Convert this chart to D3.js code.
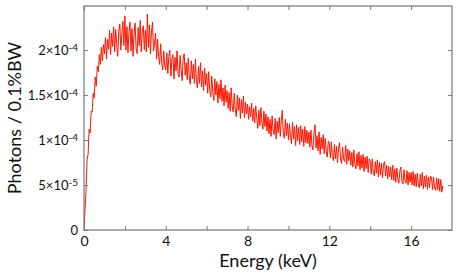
<!DOCTYPE html>
<html>
<head>
<meta charset="utf-8">
<title>Photon spectrum</title>
<script src="https://cdn.jsdelivr.net/npm/d3@7"></script>
<style>
  body { margin: 0; background: #fff; }
  text { font-family: Lato, "Open Sans", sans-serif; fill: #111; }
</style>
</head>
<body>
<div id="chart"></div>
<script>
var width = 464, height = 277;
var margin = {left: 84, right: 12, top: 6, bottom: 47};

// spectrum sampled every 0.05 keV, values in units of 1e-6 photons / 0.1%BW
var energyStep = 0.05;
var photons = [
  0, 22, 44, 78, 84, 112, 108, 132, 131, 152, 147, 170, 160, 182, 176, 195, 184, 203, 188, 206,
  196, 214, 190, 212, 201, 222, 195, 219, 204, 226, 198, 223, 207, 193, 221, 229, 200, 218, 232, 205,
  238, 200, 226, 197, 220, 231, 199, 224, 193, 219, 230, 201, 196, 225, 205, 233, 198, 221, 227, 200,
  222, 198, 240, 203, 228, 196, 220, 231, 199, 208, 219, 190, 212, 193, 184, 207, 186, 178, 199, 182,
  178, 197, 174, 193, 200, 171, 190, 195, 168, 192, 177, 199, 173, 170, 194, 178, 166, 191, 196, 172,
  186, 167, 191, 170, 162, 188, 168, 184, 163, 190, 165, 158, 182, 163, 186, 159, 177, 155, 180, 161,
  174, 152, 176, 155, 148, 171, 153, 144, 168, 150, 165, 141, 162, 146, 167, 143, 158, 138, 161, 142,
  155, 135, 153, 132, 158, 137, 131, 152, 134, 126, 150, 133, 147, 124, 145, 130, 149, 125, 142, 129,
  140, 123, 137, 126, 141, 121, 135, 119, 138, 125, 113, 133, 116, 136, 120, 112, 132, 115, 129, 110,
  126, 107, 123, 104, 127, 110, 106, 124, 101, 121, 108, 125, 104, 122, 133, 107, 102, 123, 105, 119,
  100, 118, 103, 96, 120, 101, 115, 94, 117, 99, 114, 95, 116, 98, 112, 93, 115, 97, 111, 96,
  109, 92, 111, 94, 89, 108, 117, 91, 105, 88, 109, 84, 103, 90, 106, 85, 102, 87, 81, 99,
  96, 80, 98, 82, 77, 95, 79, 93, 75, 91, 97, 78, 74, 92, 79, 76, 94, 73, 90, 77,
  88, 72, 86, 70, 89, 73, 68, 85, 71, 87, 67, 83, 69, 84, 65, 81, 68, 82, 64, 79,
  77, 62, 79, 64, 60, 76, 63, 78, 59, 75, 61, 74, 58, 73, 76, 60, 72, 57, 71, 59,
  70, 56, 72, 55, 68, 53, 69, 57, 52, 66, 70, 54, 51, 67, 55, 52, 66, 50, 64, 53,
  64, 50, 65, 49, 62, 48, 63, 51, 47, 62, 49, 64, 46, 60, 48, 61, 45, 59, 47, 60,
  58, 45, 59, 46, 44, 58, 45, 57, 43, 56, 42, 49
];

var xTicks = [0, 2, 4, 6, 8, 10, 12, 14, 16];
var yTicks = [0, 5e-5, 1e-4, 1.5e-4, 2e-4];
var yTickMantissa = ["0", "5", "1", "1.5", "2"];
var yTickExponent = ["", "-5", "-4", "-4", "-4"];

var data = photons.map(function(d, i) { return [i * energyStep, d * 1e-6]; });

var x = d3.scaleLinear().domain([0, 18]).range([margin.left, width - margin.right]);
var y = d3.scaleLinear().domain([0, 2.49e-4]).range([height - margin.bottom, margin.top]);

var svg = d3.select("#chart").append("svg")
  .attr("width", width)
  .attr("height", height);

svg.append("clipPath").attr("id", "plot")
  .append("rect")
  .attr("x", margin.left).attr("y", margin.top)
  .attr("width", x.range()[1] - x.range()[0])
  .attr("height", y.range()[0] - y.range()[1]);

// the spectrum
svg.append("path")
  .datum(data)
  .attr("clip-path", "url(#plot)")
  .attr("fill", "none")
  .attr("stroke", "#ff1400")
  .attr("stroke-width", 1)
  .attr("d", d3.line().x(function(d) { return x(d[0]); }).y(function(d) { return y(d[1]); }));

// ticks point inwards on all four sides
var gx = svg.append("g").attr("transform", "translate(0," + y.range()[0] + ")")
  .call(d3.axisBottom(x).tickValues(xTicks).tickSize(-4).tickPadding(6)
    .tickFormat(function(d) { return d % 4 === 0 ? d : ""; }));
svg.append("g").attr("transform", "translate(0," + y.range()[1] + ")")
  .call(d3.axisTop(x).tickValues(xTicks).tickSize(-4).tickFormat(""));
var gy = svg.append("g").attr("transform", "translate(" + x.range()[0] + ",0)")
  .call(d3.axisLeft(y).tickValues(yTicks).tickSize(-4).tickPadding(6).tickFormat(""));
svg.append("g").attr("transform", "translate(" + x.range()[1] + ",0)")
  .call(d3.axisRight(y).tickValues(yTicks).tickSize(-4).tickFormat(""));

svg.selectAll(".domain").remove();
svg.selectAll(".tick line").attr("stroke", "#777");
gx.selectAll("text").style("font-size", "14px").attr("fill", "#111");

// y labels with superscript exponent
gy.selectAll(".tick text").each(function(d, i) {
  var t = d3.select(this).style("font-size", "13px").attr("fill", "#111");
  t.append("tspan").text(yTickMantissa[i] + (yTickExponent[i] ? "\u00d710" : ""));
  if (yTickExponent[i]) {
    t.append("tspan").attr("dy", "-0.4em").style("font-size", "10px").text(yTickExponent[i]);
  }
});

// frame
svg.append("rect")
  .attr("x", x.range()[0]).attr("y", y.range()[1])
  .attr("width", x.range()[1] - x.range()[0])
  .attr("height", y.range()[0] - y.range()[1])
  .attr("fill", "none")
  .attr("stroke", "#777")
  .attr("stroke-width", 1.2);

svg.append("text")
  .attr("x", (x.range()[0] + x.range()[1]) / 2)
  .attr("y", 267)
  .attr("text-anchor", "middle")
  .style("font-size", "18px")
  .text("Energy (keV)");

svg.append("text")
  .attr("transform", "translate(21," + (y.range()[0] + y.range()[1]) / 2 + ") rotate(-90)")
  .attr("text-anchor", "middle")
  .style("font-size", "18px")
  .text("Photons / 0.1%BW");
</script>
</body>
</html>
